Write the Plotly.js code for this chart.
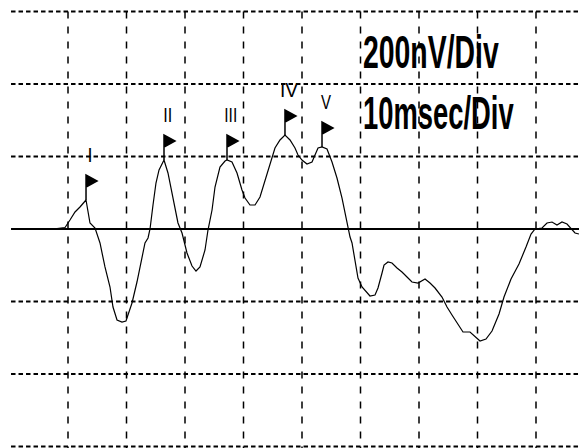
<!DOCTYPE html>
<html>
<head>
<meta charset="utf-8">
<script src="https://cdn.plot.ly/plotly-3.0.1.min.js"></script>
<style>html,body{margin:0;padding:0;background:#fff;}#chart{width:579px;height:448px;}</style>
</head>
<body>
<div id="chart"></div>
<script>
// Waveform (time in ms, amplitude in nV)
const timeMs = [8.12,9.49,10.34,11.20,12.05,13.08,13.76,14.62,15.47,16.32,17.18,17.69,18.38,19.23,19.91,20.60,20.94,21.79,22.65,23.16,23.68,24.02,24.53,25.04,25.56,26.41,
27.09,27.95,28.80,29.49,30.34,31.20,31.88,32.56,33.42,33.93,34.62,35.13,35.98,36.84,37.18,38.03,38.89,39.74,40.26,41.11,41.97,42.82,43.68,44.53,45.38,46.24,47.09,
47.95,48.80,49.32,50.00,50.85,51.71,52.22,52.74,53.42,54.27,55.13,55.98,56.84,57.69,58.21,58.55,59.06,59.57,60.26,61.11,61.62,62.48,62.99,63.68,64.02,64.70,65.38,
66.24,67.09,67.95,68.80,69.83,71.03,71.88,72.74,73.93,74.79,75.64,76.50,77.52,78.72,79.57,80.43,81.45,82.48,83.68,84.53,85.73,87.09,88.29,89.15,89.83,91.03,91.88,
92.74,93.59,94.44,95.30,96.15,96.67,97.35];
const ampNv = [1.4,4.1,24.8,46.9,60.7,80.0,16.6,2.8,-38.6,-104.8,-160.0,-215.2,-251.0,-256.6,-253.8,-223.4,-204.1,-146.2,-80.0,-38.6,-24.8,0,66.2,126.9,162.8,190.3,
154.5,80.0,16.6,-11.0,-66.2,-102.1,-115.9,-104.8,-57.9,-2.8,52.4,115.9,171.0,187.6,190.3,184.8,154.5,107.6,85.5,66.2,66.2,88.3,135.2,182.1,223.4,245.5,259.3,
245.5,223.4,204.1,190.3,179.3,184.8,204.1,223.4,226.2,220.7,184.8,140.7,85.5,13.8,-22.1,-38.6,-85.5,-135.2,-160.0,-176.6,-184.8,-182.1,-162.8,-121.4,-99.3,-91.0,-93.8,
-107.6,-118.6,-132.4,-146.2,-149.0,-137.9,-149.0,-162.8,-187.6,-215.2,-237.2,-259.3,-284.1,-284.1,-297.9,-309.0,-303.4,-281.4,-234.5,-187.6,-137.9,-96.6,-49.7,-13.8,0,2.8,16.6,
19.3,11.0,19.3,13.8,-2.8,-11.0,-13.8];

// Marked peaks
const peakLabels = ["I","II","III","IV","V"];
const peakTimes = [13.08,26.41,37.18,47.09,53.42];
const peakAmps = [80.0,190.3,190.3,259.3,226.2];

// Grid (10 ms/div, 200 nV/div)
const gridTimes = [10,20,30,40,50,60,70,80,90];
const gridVolts = [600,400,200,-200,-400,-600];
const baselineVolt = 0;
const scaleTexts = ["200nV/Div","10msec/Div"];

const xRange = [-1.624, 97.35];
const yRange = [-604.1, 631.7];
const gridStart = 0.26;

const shapes = [];
gridVolts.forEach(v => shapes.push({type:'line', layer:'below', xref:'x', yref:'y',
  x0:gridStart, x1:xRange[1], y0:v, y1:v, line:{color:'#000', width:2, dash:'4.5px,3px'}}));
gridTimes.forEach(t => shapes.push({type:'line', layer:'below', xref:'x', yref:'y',
  x0:t, x1:t, y0:gridVolts[0], y1:yRange[0]-10, line:{color:'#000', width:1.5, dash:'7px,8px'}}));
shapes.push({type:'line', layer:'below', xref:'x', yref:'y', x0:gridStart, x1:xRange[1],
  y0:baselineVolt, y1:baselineVolt, line:{color:'#000', width:2}});
peakTimes.forEach((t,i) => shapes.push({type:'path', xref:'x', yref:'y',
  xsizemode:'pixel', ysizemode:'pixel', xanchor:t, yanchor:peakAmps[i],
  path:'M0,0L0,25L11,19L0,13Z', fillcolor:'#000', line:{color:'#000', width:1.5}}));

const labelFont = {family:'"Liberation Sans",Arial,sans-serif', size:21, color:'#000'};
const bigFont = {family:'"Liberation Sans",Arial,sans-serif', size:46, color:'#000', weight:'bold'};

const annotations = [];
peakLabels.forEach((lab,i) => annotations.push({x:peakTimes[i], y:peakAmps[i], xref:'x', yref:'y',
  text:lab, showarrow:false, xanchor:'center', yanchor:'middle', xshift:4, yshift:46, font:labelFont}));
const textY = [0.885, 0.7467];
scaleTexts.forEach((s,i) => annotations.push({x:0.6235, y:textY[i], xref:'paper', yref:'paper',
  text:s, showarrow:false, xanchor:'left', yanchor:'middle', align:'left', font:bigFont}));

const trace = {x:timeMs, y:ampNv, type:'scatter', mode:'lines', line:{color:'#000', width:1.2}, hoverinfo:'skip'};

const layout = {
  width:579, height:448, margin:{l:0,r:0,t:0,b:0}, paper_bgcolor:'#fff', plot_bgcolor:'#fff',
  showlegend:false,
  xaxis:{range:xRange, visible:false, showgrid:false, zeroline:false, fixedrange:true},
  yaxis:{range:yRange, visible:false, showgrid:false, zeroline:false, fixedrange:true},
  shapes:shapes, annotations:annotations
};

// Rendered widths (px) that reproduce the tall, condensed lettering of the original
const textWidths = {"200nV/Div":136, "10msec/Div":151, "I":5, "II":9, "III":13, "IV":18, "V":10};
Plotly.newPlot('chart', [trace], layout, {staticPlot:true, displayModeBar:false, responsive:false}).then(gd => {
  gd.querySelectorAll('text.annotation-text').forEach(el => {
    const w = textWidths[el.textContent];
    if (!w) return;
    const bb = el.getBBox();
    const s = w / bb.width;
    const cx = el.getAttribute('text-anchor') === 'middle' ? bb.x + bb.width / 2 : bb.x;
    el.setAttribute('transform', `translate(${cx},0) scale(${s},1) translate(${-cx},0)`);
  });
});
</script>
</body>
</html>
